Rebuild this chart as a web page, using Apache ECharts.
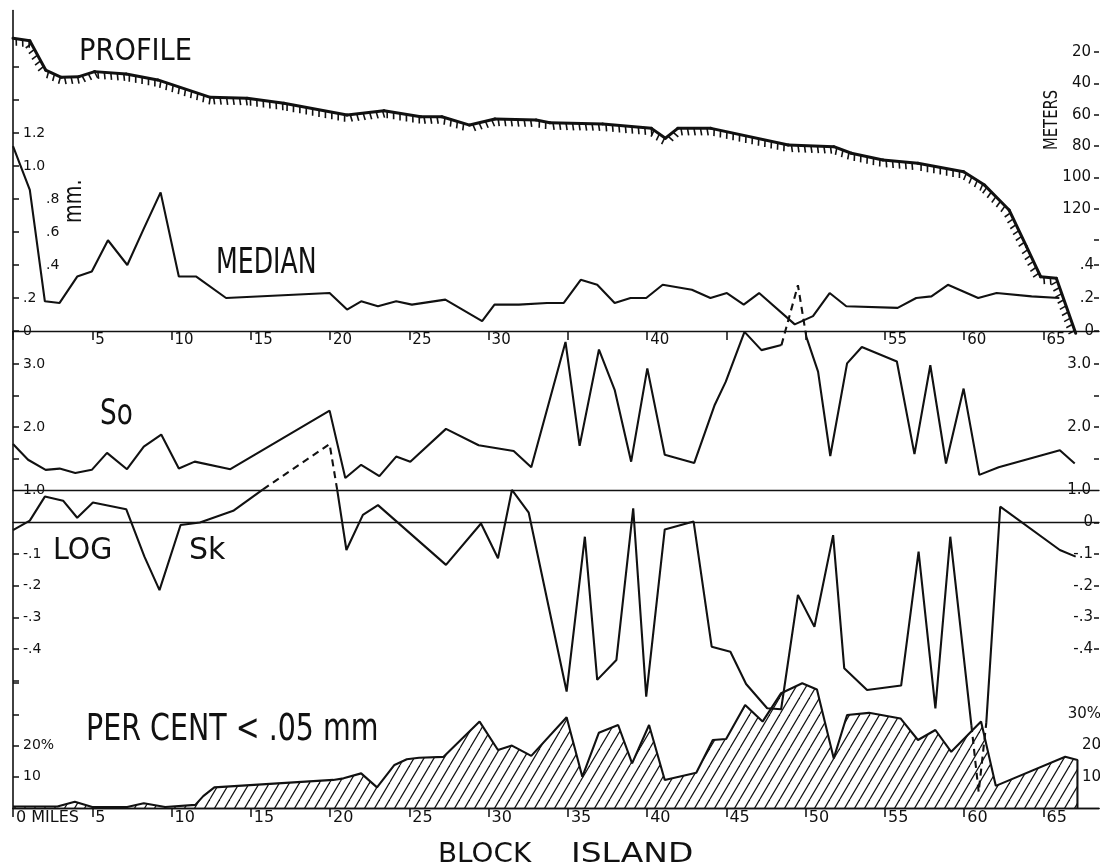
<!DOCTYPE html>
<html><head><meta charset="utf-8">
<script src="https://cdn.jsdelivr.net/npm/echarts@6/dist/echarts.min.js"></script>
<style>html,body{margin:0;padding:0;background:#fff}#c{width:1100px;height:868px}</style>
</head><body><div id="c"></div>
<script>
// ---------- data (miles along traverse) ----------
const profileMiles = [0, 1.06, 2.06, 3.05, 4.16, 5.15, 7.14, 9.13, 12.45, 14.77, 17.09, 21.07, 23.40, 25.72, 27.05, 28.8, 30.4, 33.0, 33.86, 37.2, 40.27, 41.15, 41.93, 44.03, 48.9, 51.77, 52.88, 54.87, 57.08, 59.96, 61.28, 62.83, 63.93, 64.82, 65.81, 67.03];
const profileDepth = [11.2, 12.8, 31.5, 36.1, 35.7, 32.5, 34.0, 37.8, 48.9, 49.5, 52.7, 60.2, 57.4, 61.3, 61.3, 66.6, 62.7, 63.4, 65.1, 65.9, 68.7, 75.0, 68.7, 68.7, 79.3, 80.4, 84.6, 88.9, 91.0, 96.4, 104.9, 120.8, 144.2, 163.4, 164.4, 199.5];

const medianMiles = [0, 1.06, 2.01, 2.94, 4.05, 4.97, 5.99, 7.21, 8.2, 9.31, 10.46, 11.56, 13.44, 19.97, 21.07, 21.96, 23.02, 24.17, 25.16, 27.27, 29.59, 30.37, 31.91, 33.68, 34.74, 35.81, 36.85, 37.95, 38.95, 39.94, 40.98, 42.82, 43.99, 45.03, 46.09, 47.06, 49.31, 50.46, 51.51, 52.56, 55.80, 56.97, 57.93, 58.97, 60.88, 62.04, 64.25, 66.0];
const medianMM = [1.12, 0.855, 0.18, 0.17, 0.33, 0.36, 0.55, 0.40, 0.61, 0.84, 0.33, 0.33, 0.20, 0.23, 0.13, 0.18, 0.15, 0.18, 0.16, 0.19, 0.06, 0.16, 0.16, 0.17, 0.17, 0.31, 0.28, 0.17, 0.20, 0.20, 0.28, 0.25, 0.20, 0.23, 0.16, 0.23, 0.04, 0.09, 0.23, 0.15, 0.14, 0.20, 0.21, 0.28, 0.20, 0.23, 0.21, 0.20];

const soMiles = [0, 0.95, 2.06, 2.94, 3.93, 4.97, 5.93, 7.19, 8.25, 9.35, 10.46, 11.46, 13.71, 19.97, 20.96, 21.96, 23.11, 24.17, 25.06, 27.31, 29.37, 31.58, 32.69, 34.85, 35.74, 36.96, 37.95, 38.99, 40.01, 41.11, 42.97, 44.26, 44.96, 46.14, 47.21, 48.47, 49.2, 50.04, 50.78, 51.55, 52.61, 53.54, 55.75, 56.86, 57.86, 58.85, 59.96, 60.95, 62.17, 66.03, 66.97];
const soValues = [1.73, 1.48, 1.32, 1.34, 1.27, 1.32, 1.59, 1.33, 1.69, 1.88, 1.34, 1.45, 1.33, 2.26, 1.19, 1.40, 1.22, 1.53, 1.45, 1.97, 1.71, 1.62, 1.36, 3.35, 1.70, 3.23, 2.59, 1.45, 2.93, 1.56, 1.43, 2.35, 2.72, 3.51, 3.22, 3.30, null, 3.43, 2.88, 1.54, 3.01, 3.27, 3.04, 1.57, 2.98, 1.42, 2.61, 1.24, 1.36, 1.63, 1.42];
const soDashMiles = [48.47, 49.51, 50.04];
const soDashValues = [3.30, 4.25, 3.43];

const skMiles = [0, 1.06, 2.01, 3.16, 4.05, 5.04, 7.14, 8.29, 9.24, 10.57, 11.79, 13.89, 15.77, 18, 20.45, 21.03, 22.07, 23.02, 27.31, 29.52, 30.59, 31.47, 32.53, 34.92, 36.07, 36.85, 38.06, 39.12, 39.94, 41.11, 42.93, 44.07, 45.25, 46.24, 47.57, 48.45, 49.51, 50.55, 51.73, 52.43, 53.87, 56.02, 57.12, 58.18, 59.12, 60.45, 61, 61.39, 62.27, 66.03, 67.03];
const skValues = [-0.024, 0.006, 0.082, 0.069, 0.015, 0.063, 0.042, -0.108, -0.214, -0.008, 0.0, 0.037, 0.105, null, 0.103, -0.087, 0.024, 0.055, -0.134, -0.003, -0.113, 0.103, 0.031, -0.535, -0.045, -0.498, -0.435, 0.045, -0.551, -0.022, 0.003, -0.393, -0.409, -0.511, -0.588, -0.591, -0.229, -0.33, -0.040, -0.461, -0.530, -0.516, -0.092, -0.588, -0.045, -0.641, null, -0.634, 0.05, -0.087, -0.108];
const skDashAMiles = [15.77, 19.97, 20.45];
const skDashAValues = [0.105, 0.248, 0.103];
const skDashBMiles = [60.45, 60.91, 61.39];
const skDashBValues = [-0.641, -0.853, -0.634];

const pctMiles = [0, 2.8, 3.9, 5.0, 7.2, 8.25, 9.6, 11.5, 12.0, 12.7, 20.2, 20.85, 21.96, 22.96, 24.06, 24.84, 25.61, 27.16, 29.43, 30.59, 31.47, 32.69, 34.92, 35.91, 36.95, 38.17, 39.05, 40.12, 41.11, 43.10, 44.14, 44.98, 46.18, 47.28, 48.45, 49.78, 50.71, 51.77, 52.61, 53.99, 55.98, 57.08, 58.18, 59.18, 61.06, 61.99, 66.37, 67.14, 67.14];
const pctValues = [0.5, 0.5, 2, 0.3, 0.3, 1.5, 0.3, 1, 3.8, 6.6, 9.0, 9.5, 11.1, 6.6, 13.8, 15.6, 16.1, 16.4, 27.7, 18.6, 20.0, 16.7, 29.1, 10.0, 24.1, 26.6, 14.3, 26.6, 9.0, 11.3, 21.8, 22.1, 33.0, 27.7, 36.8, 40.0, 38.0, 15.9, 29.8, 30.5, 28.7, 21.8, 25.0, 18.0, 27.7, 7.1, 16.4, 15.4, 0];

// tick values
const profileTicks = [20, 40, 60, 80, 100, 120, 140];
const profileLabels = [20, 40, 60, 80, 100, 120];
const medianTicksL = [0, 0.2, 0.4, 0.6, 0.8, 1.0, 1.2, 1.4, 1.6];
const medianLabelsL = [0, 0.2, 0.4, 0.6, 0.8, 1.0, 1.2];
const medianLabelsR = [0, 0.2, 0.4];
const soTicks = [1.5, 2.0, 2.5, 3.0];
const soLabels = [1.0, 2.0, 3.0];
const skTicksL = [-0.5, -0.4, -0.3, -0.2, -0.1];
const skLabelsL = [-0.4, -0.3, -0.2, -0.1];
const skTicksR = [-0.4, -0.3, -0.2, -0.1, 0];
const pctTicksL = [10, 20, 30, 40];
const pctLabelsL = [10, 20];
const pctTicksR = [10, 20, 30];
const mileTicks = [0, 5, 10, 15, 20, 25, 30, 35, 40, 45, 50, 55, 60, 65];

// ---------- chart ----------
const zip = (a, b) => a.map((m, i) => [m, b[i] === null ? '-' : b[i]]);
const FONT = "'DejaVu Sans', 'Liberation Sans', sans-serif";
const INK = '#111';
const L = 13, W = 1086, XMAX = 68.5;
const grid = (top, height) => ({ left: L, top: top, width: W, height: height, containLabel: false, outerBoundsMode: 'none' });

const hatch = document.createElement('canvas');
hatch.width = 10; hatch.height = 17;
const hg = hatch.getContext('2d');
hg.strokeStyle = INK; hg.lineWidth = 1.2;
[-10, 0, 10].forEach(o => { hg.beginPath(); hg.moveTo(o, 17); hg.lineTo(o + 10, 0); hg.stroke(); });

function xAx(gi, extra) {
  return Object.assign({
    type: 'value', gridIndex: gi, min: 0, max: XMAX, interval: 5,
    splitLine: { show: false },
    axisLine: { show: true, onZero: true, lineStyle: { color: INK, width: 1.4 } },
    axisTick: { show: false }, axisLabel: { show: false }
  }, extra || {});
}
function xTicked(gi, fmt, size) {
  return xAx(gi, {
    axisTick: { show: true, length: 9, customValues: mileTicks, lineStyle: { color: INK, width: 1.5 } },
    axisLabel: { show: true, customValues: mileTicks, formatter: fmt, align: 'left', padding: [0, 0, 0, 3], margin: 2,
      color: INK, fontFamily: FONT, fontSize: size }
  });
}
function yAx(gi, pos, min, max, ticks, labels, fmt, extra, margin) {
  const left = pos === 'left';
  return Object.assign({
    type: 'value', gridIndex: gi, position: pos, min: min, max: max,
    splitLine: { show: false }, axisLine: { show: false, onZero: false },
    axisTick: { show: true, inside: true, length: left ? 6 : 5, customValues: ticks, lineStyle: { color: INK, width: 1.5 } },
    axisLabel: { show: true, inside: true, customValues: labels, formatter: fmt, color: INK,
      fontFamily: FONT, fontSize: left ? 14 : 15, margin: margin !== undefined ? margin : (left ? 10 : 8),
      rich: { s: { fontFamily: FONT, fontSize: 14, color: INK, padding: [0, 0, 0, 23] } } }
  }, extra || {});
}
const fmtDec = v => { if (v === 0) return '0'; const s = Math.abs(v).toFixed(1); return (v < 0 ? '-' : '') + (Math.abs(v) < 1 ? s.slice(1) : s); };
const fmtMedL = v => (v >= 0.35 && v <= 0.85) ? '{s|' + fmtDec(v) + '}' : fmtDec(v);

const profileSegs = profileMiles.slice(0, -1).map((m, i) => [m, profileDepth[i], profileMiles[i + 1], profileDepth[i + 1]]);

function renderProfile(params, api) {
  const a = api.coord([api.value(0), api.value(1)]);
  const b = api.coord([api.value(2), api.value(3)]);
  const children = [{ type: 'line', shape: { x1: a[0], y1: a[1], x2: b[0], y2: b[1] },
    style: { stroke: INK, lineWidth: 3, lineCap: 'round' } }];
  const dx = b[0] - a[0], dy = b[1] - a[1], len = Math.hypot(dx, dy);
  const ux = dx / len, uy = dy / len, nx = -uy, ny = ux;
  const step = 6.5, hl = 7;
  for (let s = step / 2; s < len; s += step) {
    const px = a[0] + ux * s, py = a[1] + uy * s;
    children.push({ type: 'line', shape: { x1: px, y1: py, x2: px + nx * hl + ux * 1.2, y2: py + ny * hl + uy * 1.2 },
      style: { stroke: INK, lineWidth: 1.6 } });
  }
  return { type: 'group', children: children };
}

const lineS = (xi, yi, data, dashed) => ({
  type: 'line', xAxisIndex: xi, yAxisIndex: yi, data: data, symbol: 'none', silent: true,
  lineStyle: { color: INK, width: 2.1, type: dashed ? [7, 5] : 'solid' }
});

const text = (t, x, y, size, sx, extra) => Object.assign({
  type: 'text', x: x, y: y, scaleX: sx || 1, silent: true,
  style: { text: t, fontFamily: FONT, fontSize: size, fill: INK, align: 'left', verticalAlign: 'middle' }
}, extra || {});

const option = {
  animation: false,
  backgroundColor: '#fff',
  grid: [grid(10.5, 797.5), grid(20.7, 313.4), grid(67, 264), grid(269.5, 220.5), grid(427.7, 379.2), grid(667.6, 140.4)],
  xAxis: [
    xAx(0, { position: 'top' }),
    xAx(1, { show: false }),
    xTicked(2, v => (v === 0 || v === 35 || v === 45 || v === 50) ? '' : String(v), 15),
    xAx(3),
    xAx(4),
    xTicked(5, v => v === 0 ? '0 MILES' : String(v), 16)
  ],
  yAxis: [
    { type: 'value', gridIndex: 0, position: 'left', min: 0, max: 1, splitLine: { show: false },
      axisLine: { show: true, onZero: false, lineStyle: { color: INK, width: 1.6 } }, axisTick: { show: false }, axisLabel: { show: false } },
    yAx(1, 'right', 0, 200, profileTicks, profileLabels, v => String(v), { inverse: true }),
    yAx(2, 'left', 0, 1.6, medianTicksL, medianLabelsL, fmtMedL),
    yAx(2, 'right', 0, 1.6, medianLabelsR, medianLabelsR, fmtDec, null, 5),
    yAx(3, 'left', 1, 4.5, soTicks, soLabels, v => v.toFixed(1)),
    yAx(3, 'right', 1, 4.5, soTicks, soLabels, v => v.toFixed(1)),
    yAx(4, 'left', -0.9, 0.3, skTicksL, skLabelsL, fmtDec),
    yAx(4, 'right', -0.9, 0.3, skTicksR, skTicksR, fmtDec, null, 6),
    yAx(5, 'left', 0, 45, pctTicksL, pctLabelsL, v => v === 20 ? '20%' : String(v)),
    yAx(5, 'right', 0, 45, pctTicksR, pctTicksR, v => v === 30 ? '30%' : String(v), { offset: 5 }, 3)
  ],
  series: [
    { type: 'custom', xAxisIndex: 1, yAxisIndex: 1, data: profileSegs, encode: { x: [0, 2], y: [1, 3] },
      renderItem: renderProfile, clip: false, silent: true },
    lineS(2, 2, zip(medianMiles, medianMM)),
    lineS(3, 4, zip(soMiles, soValues)),
    lineS(3, 4, zip(soDashMiles, soDashValues), true),
    lineS(4, 6, zip(skMiles, skValues)),
    lineS(4, 6, zip(skDashAMiles, skDashAValues), true),
    lineS(4, 6, zip(skDashBMiles, skDashBValues), true),
    Object.assign(lineS(5, 8, zip(pctMiles, pctValues)), {
      areaStyle: { color: { image: hatch, repeat: 'repeat' }, opacity: 1 }
    })
  ],
  graphic: [
    text('PROFILE', 79, 52, 31, 0.88),
    text('MEDIAN', 216, 264, 36, 0.7),
    text('mm.', 75, 223, 24, 0.8, { rotation: Math.PI / 2 }),
    text('METERS', 1052, 150, 20, 0.74, { rotation: Math.PI / 2 }),
    text('So', 100, 415, 36, 0.73),
    text('LOG', 53, 551, 30, 0.95),
    text('Sk', 189, 551, 30, 1),
    text('PER CENT < .05 mm', 86, 730, 37, 0.77),
    text('BLOCK', 438, 855, 27, 1.03),
    text('ISLAND', 571, 855, 27, 1.22)
  ]
};

const chart = echarts.init(document.getElementById('c'), null, { renderer: 'canvas' });
chart.setOption(option);
</script>
</body></html>
